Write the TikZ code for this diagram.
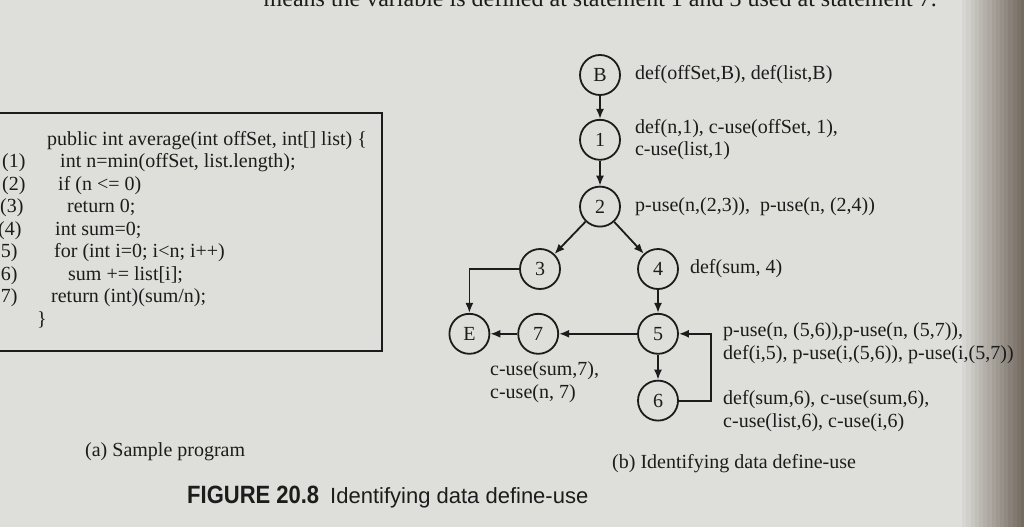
\documentclass[tikz,border=0pt]{standalone}
\usepackage{fontspec}
\setmainfont{Liberation Serif}
\newfontfamily\capsans{Liberation Sans}
\newfontfamily\capcond[FakeStretch=0.88]{Liberation Sans}
\usetikzlibrary{arrows.meta, positioning}
\definecolor{ink}{RGB}{28,28,28}
\definecolor{paper}{RGB}{222,222,218}
\definecolor{spine}{RGB}{115,105,95}
\tikzset{
  vertex/.style={circle,draw=ink,line width=1.8pt,minimum size=40pt,inner sep=0pt,text=ink},
  flow/.style={draw=ink,line width=1.8pt,-{Latex[length=10pt,width=8pt]}},
  dulabel/.style={anchor=west,align=left,text=ink,inner sep=0pt},
  codeline/.style={anchor=base west,text=ink,inner sep=0pt},
  caption/.style={anchor=base west,text=ink,inner sep=0pt},
}

\begin{document}
\begin{tikzpicture}[x=1pt,y=-1pt,font=\fontsize{20}{22.5}\selectfont]
	    \useasboundingbox (0,0) rectangle (1024,527);
	    \clip (0,0) rectangle (1024,527);
	    \fill[paper] (0,0) rectangle (1024,527);
	    \foreach \k [evaluate=\k as \pc using \k*6.6] in {0,...,15}
	      \fill[spine!\pc!paper] ({958+4.2*\k},0) rectangle ({963+4.2*\k},527);
	    \node[caption,anchor=base east,font=\fontsize{24}{26}\selectfont] (cut) at (937,7)
	    	{means the variable is defined at statement 1 and 3 used at statement 7.};
	    % (a) sample program
	    \draw[ink,line width=1.6pt] (-5,113) rectangle (382,351);
	    \foreach \x/\txt [count=\i from 0] in {47/{public int average(int offSet, int[] list) \{},
	        60/{int n=min(offSet, list.length);}, 58/{if (n <= 0)}, 67/{return 0;},
	        55/{int sum=0;}, 54/{for (int i=0; i<n; i++)}, 68/{sum += list[i];},
	        51/{return (int)(sum/n);}, 37/{\}}}
	      \node[codeline] (code\i) at (\x,{145+22.5*\i}) {\txt};
	    \foreach \x [count=\i] in {2,2,0,-2,-6,-6,-6}
	      \node[codeline] (num\i) at (\x,{145+22.5*\i}) {(\i)};
	    \node[caption] (capa) at (85,456) {(a) Sample program};
	    % (b) define-use graph
	    \node[vertex] (B) at (600,75) {B};
	    \node[vertex,below=23pt of B] (n1) {1};
	    \node[vertex,below=25pt of n1] (n2) {2};
	    \node[vertex] (n3) at (540,269) {3};
	    \node[vertex] (n4) at (658,269) {4};
	    \node[vertex,below=23pt of n4] (n5) {5};
	    \node[vertex,below=25pt of n5] (n6) {6};
	    \node[vertex,left=78pt of n5] (n7) {7};
	    \node[vertex,left=27pt of n7] (E) {E};
	    \coordinate[right=32pt of n6] (back);
	    \draw[flow] (B) -- (n1);
	    \draw[flow] (n1) -- (n2);
	    \draw[flow] (n2) -- (n3);
	    \draw[flow] (n2) -- (n4);
	    \draw[flow] (n3) -| (E);
	    \draw[flow] (n4) -- (n5);
	    \draw[flow] (n5) -- (n6);
	    \draw[flow] (n5) -- (n7);
	    \draw[flow] (n7) -- (E);
	    \draw[flow] (n6) -- (back) |- (n5);
	    \node[dulabel,right=14pt of B] (lB) {def(offSet,B), def(list,B)};
	    \node[dulabel,right=14pt of n1] (l1) {def(n,1), c-use(offSet, 1),\\c-use(list,1)};
	    \node[dulabel,right=14pt of n2] (l2) {p-use(n,(2,3)),\ \ p-use(n, (2,4))};
	    \node[dulabel,right=11pt of n4] (l4) {def(sum, 4)};
	    \node[dulabel] (l5) at (723,343) {p-use(n, (5,6)),p-use(n, (5,7)),\\def(i,5), p-use(i,(5,6)), p-use(i,(5,7))};
	    \node[dulabel] (l6) at (723,411) {def(sum,6), c-use(sum,6),\\c-use(list,6), c-use(i,6)};
	    \node[dulabel] (l7) at (490,382) {c-use(sum,7),\\c-use(n, 7)};
	    \node[caption] (capb) at (612,468) {(b) Identifying data define-use};
	    \node[caption,font=\capsans\fontsize{22}{24}\selectfont] (fig) at (187,503)
	    	{{\capcond\bfseries\fontsize{25}{26}\selectfont FIGURE 20.8}\hspace{11pt}Identifying data define-use};
	\end{tikzpicture}
\end{document}
